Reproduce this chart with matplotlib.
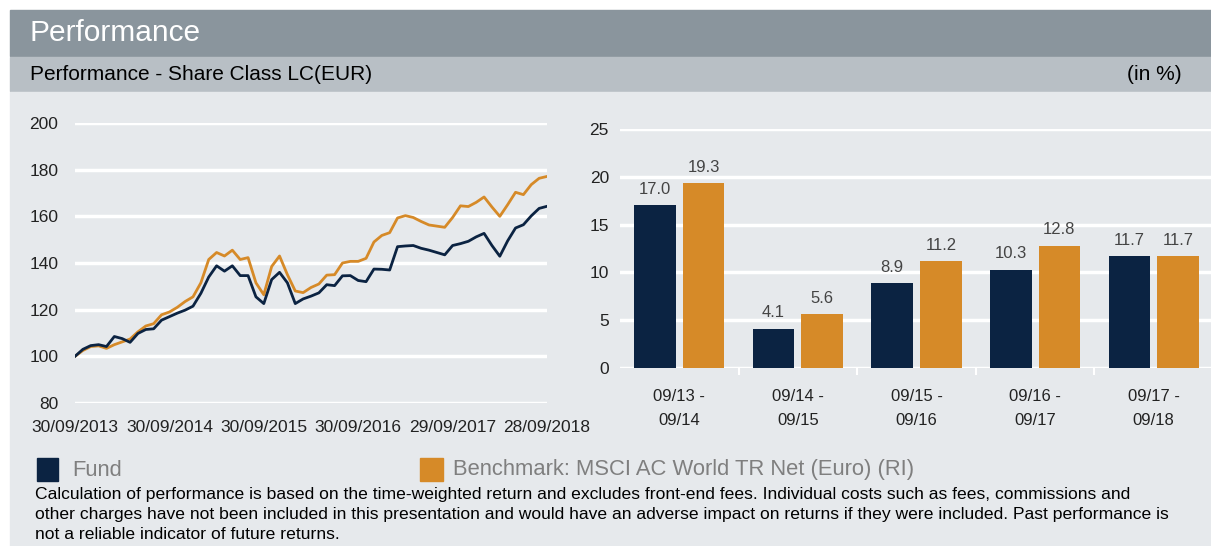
import matplotlib
matplotlib.use("Agg")
import matplotlib.pyplot as plt
from matplotlib.patches import Rectangle

plt.rcParams['font.family'] = ['Liberation Sans', 'DejaVu Sans']

# indexed performance, monthly, 30/09/2013 = 100
fund = [100, 103, 104.6, 105, 104.2, 108.5, 107.6, 106, 109.8, 111.5,
        111.8, 115.5, 117, 118.5, 119.8, 121.5, 127, 134, 138.8, 136.5,
        138.8, 134.6, 134.6, 125.5, 122.6, 132.9, 136, 131.5, 122.6, 124.6,
        125.8, 127.2, 130.7, 130.3, 134.5, 134.6, 132.5, 132, 137.4, 137.3,
        137, 147, 147.3, 147.5, 146.3, 145.5, 144.5, 143.5, 147.5, 148.3,
        149.3, 151.2, 152.7, 147.5, 142.9, 149.5, 155, 156.4, 160.2, 163.4,
        164.3]
bench = [100, 102.5, 104.2, 104.5, 103.4, 105, 106.2, 107.4, 110.5, 113,
         114, 117.8, 119, 121, 123.5, 125.5, 131.5, 141.5, 144.5, 143,
         145.5, 141.5, 142.3, 131.5, 126.4, 138.5, 143, 135, 128, 127.3,
         129.5, 131, 134.8, 135, 140, 140.7, 140.7, 142, 149, 151.8,
         153, 159.3, 160.3, 159.5, 157.8, 156.3, 155.8, 155.3, 159.5, 164.5,
         164.2, 166, 168.3, 164, 160, 165, 170.3, 169.3, 173.6, 176.3,
         177.1]
date_labels = ["30/09/2013", "30/09/2014", "30/09/2015", "30/09/2016",
               "29/09/2017", "28/09/2018"]

periods = ["09/13 -\n09/14", "09/14 -\n09/15", "09/15 -\n09/16",
           "09/16 -\n09/17", "09/17 -\n09/18"]
fund_yr = [17.0, 4.1, 8.9, 10.3, 11.7]
bench_yr = [19.3, 5.6, 11.2, 12.8, 11.7]

NAVY = "#0b2342"
ORANGE = "#d68a28"
BG = "#e6e9ec"
W, H = 1211, 546

fig = plt.figure(figsize=(W / 100, H / 100), dpi=100)
fig.patch.set_facecolor("white")

def box(x0, y0, x1, y1, color, z=-10):
    fig.patches.append(Rectangle((x0 / W, 1 - y1 / H), (x1 - x0) / W, (y1 - y0) / H,
                                 transform=fig.transFigure, color=color, zorder=z))

box(10, 10, W, 56, "#8a959d")
box(10, 57, W, 91, "#b8bfc5")
box(10, 92, W, H, BG)

fig.text(30 / W, 1 - 33 / H, "Performance", color="white", fontsize=21.5, va="center")
fig.text(30 / W, 1 - 74 / H, "Performance - Share Class LC(EUR)", color="black",
         fontsize=15, va="center")
fig.text(1182 / W, 1 - 74 / H, "(in %)", color="black", fontsize=15, va="center", ha="right")

# line chart
ax1 = fig.add_axes([75 / W, 1 - 403 / H, 472 / W, 280 / H])
ax1.patch.set_alpha(0)
t = list(range(len(fund)))
ax1.plot(t, bench, color=ORANGE, lw=2.0, zorder=3)
ax1.plot(t, fund, color=NAVY, lw=2.0, zorder=4)
ax1.set_xlim(0, 60)
ax1.set_ylim(80, 200)
ax1.set_yticks(range(80, 201, 20))
ax1.set_xticks([0, 12, 24, 36, 48, 60])
ax1.set_xticklabels(date_labels)
ax1.grid(axis="y", color="white", lw=2.5, zorder=1)
ax1.set_axisbelow(True)
for s in ax1.spines.values():
    s.set_visible(False)
ax1.tick_params(length=0, labelsize=12.5, colors="#222222")
ax1.tick_params(axis="y", pad=12)
ax1.tick_params(axis="x", pad=12)

# bar chart
ax2 = fig.add_axes([620 / W, 1 - 368 / H, 593 / W, 239 / H])
ax2.patch.set_alpha(0)
x = list(range(len(periods)))
ax2.bar([i - 0.205 for i in x], fund_yr, width=0.35, color=NAVY, zorder=3)
ax2.bar([i + 0.205 for i in x], bench_yr, width=0.35, color=ORANGE, zorder=3)
for i in x:
    ax2.annotate(f"{fund_yr[i]:.1f}", (i - 0.205, fund_yr[i]), xytext=(0, 6),
                 textcoords="offset points", ha="center", va="bottom",
                 fontsize=12, color="#444444")
    ax2.annotate(f"{bench_yr[i]:.1f}", (i + 0.205, bench_yr[i]), xytext=(0, 6),
                 textcoords="offset points", ha="center", va="bottom",
                 fontsize=12, color="#444444")
ax2.set_xlim(-0.5, 4.5)
ax2.set_ylim(0, 25)
ax2.set_yticks(range(0, 26, 5))
ax2.grid(axis="y", color="white", lw=2.5, zorder=1)
ax2.set_axisbelow(True)
for s in ax2.spines.values():
    s.set_visible(False)
ax2.set_xticks(x)
ax2.set_xticklabels(periods, linespacing=1.75)
ax2.set_xticks([i + 0.5 for i in range(4)], minor=True)
ax2.tick_params(axis="x", which="major", length=0, pad=15, labelsize=12, colors="#222222")
ax2.tick_params(axis="x", which="minor", length=5, width=1.5, color="white")
ax2.tick_params(axis="y", length=0, pad=8, labelsize=12.5, colors="#222222")

# legend
box(37, 458, 58, 481, NAVY, 1)
fig.text(72 / W, 1 - 470 / H, "Fund", color="#7f7f7f", fontsize=15.8, va="center")
box(420, 458, 443, 481, ORANGE, 1)
fig.text(453 / W, 1 - 470 / H, "Benchmark: MSCI AC World TR Net (Euro) (RI)",
         color="#7f7f7f", fontsize=15.8, va="center")

note = ("Calculation of performance is based on the time-weighted return and excludes front-end fees. "
        "Individual costs such as fees, commissions and\n"
        "other charges have not been included in this presentation and would have an adverse impact "
        "on returns if they were included. Past performance is\n"
        "not a reliable indicator of future returns.")
fig.text(35 / W, 1 - 487 / H, note, color="black", fontsize=12.6, va="top", linespacing=1.4)

fig.savefig("out.png", dpi=100)
